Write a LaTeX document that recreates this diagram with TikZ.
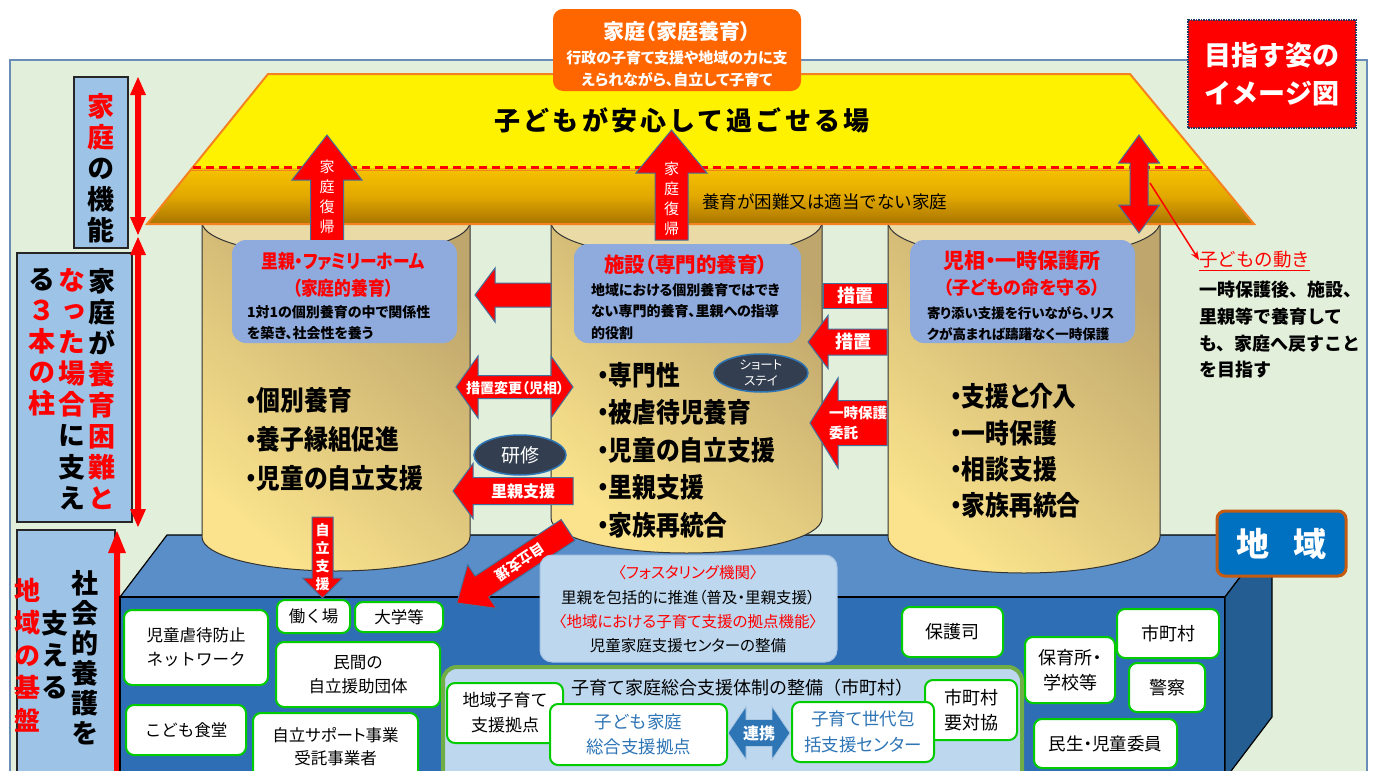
\documentclass[tikz,border=0pt]{standalone}
\usepackage{fontspec}
\usepackage{graphicx}
\setmainfont{Noto Sans CJK JP}
\newfontfamily\jpp{Noto Sans CJK JP}[RawFeature=+palt]
\newfontfamily\jpc{Noto Sans CJK JP}[RawFeature=+palt,FakeStretch=0.88]
\newfontfamily\jpls{Noto Sans CJK JP}[LetterSpace=12]
\newfontfamily\jpv{Noto Sans CJK JP}[RawFeature=+vert]
\usetikzlibrary{shapes.geometric,arrows.meta}
\newcommand\fsz[2]{\fontsize{#1}{#2}\selectfont}
\newcommand\R[1]{\textcolor{red}{#1}}
\definecolor{panelg}{HTML}{E2EFDA}
\definecolor{panelb}{HTML}{6A8DB8}
\definecolor{orgbox}{HTML}{FF6600}
\definecolor{roofor}{HTML}{F58220}
\definecolor{bandtop}{HTML}{F6C300}
\definecolor{bandmid}{HTML}{E2A800}
\definecolor{bandbot}{HTML}{A87400}
\definecolor{lblue}{HTML}{9DC3E6}
\definecolor{capblue}{HTML}{8FAADC}
\definecolor{arredge}{HTML}{41719C}
\definecolor{darkellc}{HTML}{333F50}
\definecolor{elledge}{HTML}{2E75B6}
\definecolor{topface}{HTML}{5A8EC8}
\definecolor{frontface}{HTML}{2E6EB5}
\definecolor{sideface}{HTML}{245D92}
\definecolor{boxgreen}{HTML}{00CC00}
\definecolor{fostfill}{HTML}{BDD7EE}
\definecolor{fostedge}{HTML}{A9C4E4}
\definecolor{contgreen}{HTML}{70AD47}
\definecolor{txtblue}{HTML}{2E75B6}
\definecolor{chiiki}{HTML}{0070C0}
\definecolor{chiikiedge}{HTML}{C55A11}
\definecolor{cyllight}{HTML}{FAE38C}
\definecolor{cyldark}{HTML}{BFA66C}
\definecolor{cyltopc}{HTML}{EADAA6}
\definecolor{reddot}{HTML}{203864}
% block arrow: style, tail, angle, length, shaft half, head half, head length
\newcommand\blkarrow[7]{%
 \begin{scope}[shift={#2},rotate=#3]
 \path[#1] (0,{-(#5)}) -- ({#4-(#7)},{-(#5)}) -- ({#4-(#7)},{-(#6)}) -- (#4,0) -- ({#4-(#7)},{#6}) -- ({#4-(#7)},{#5}) -- (0,{#5}) -- cycle;
 \end{scope}}
% double block arrow: style, centre, angle, length, shaft half, head half, head length
\newcommand\dblarrow[7]{%
 \begin{scope}[shift={#2},rotate=#3]
 \path[#1] ({-(#4)/2},0) -- ({-(#4)/2+(#7)},{-(#6)}) -- ({-(#4)/2+(#7)},{-(#5)}) -- ({(#4)/2-(#7)},{-(#5)}) -- ({(#4)/2-(#7)},{-(#6)}) -- ({(#4)/2},0) -- ({(#4)/2-(#7)},{#6}) -- ({(#4)/2-(#7)},{#5}) -- ({-(#4)/2+(#7)},{#5}) -- ({-(#4)/2+(#7)},{#6}) -- cycle;
 \end{scope}}
% cylinder: x1, x2, cx, rx, ytop, ybot, ry
\newcommand\cyl[7]{%
 \path[cylbody] (#1,#5) -- (#1,#6) .. controls (#1,{#6+0.5523*#7}) and ({#3-0.5523*#4},{#6+#7}) .. (#3,{#6+#7}) .. controls ({#3+0.5523*#4},{#6+#7}) and (#2,{#6+0.5523*#7}) .. (#2,#6) -- (#2,#5) -- cycle;
 \path[cyltop] (#3,#5) ellipse [x radius=#4pt, y radius=#7pt];}
\tikzset{
 panel/.style={fill=panelg, draw=panelb, line width=1.5pt},
 sidebox/.style={fill=lblue, draw=black!85, line width=1.5pt},
 thinred/.style={fill=red},
 redarr/.style={fill=red, draw=arredge, line width=1pt},
 cylbody/.style={top color=cyldark, bottom color=cyllight, shading angle=-40, draw=black!80, line width=1pt},
 cyltop/.style={fill=cyltopc, draw=black!80, line width=1pt},
 capbox/.style={fill=capblue, rounded corners=14pt},
 wbox/.style={fill=white, draw=boxgreen, line width=2pt, rounded corners=8pt, align=center, font=\fsz{16.5}{24}},
 darkell/.style={ellipse, fill=darkellc, draw=elledge, line width=1.5pt, text=white},
 face/.style={draw=black, line width=1.2pt},
 wtxt/.style={text=white},
}
\begin{document}
\begin{tikzpicture}[x=1pt,y=-1pt,every node/.style={inner sep=0pt,outer sep=0pt}]
\useasboundingbox (0,0) rectangle (1377,771);
\clip (0,0) rectangle (1377,771);
\fill[white] (0,0) rectangle (1377,771);
\path[panel] (10,60) rectangle (1367,790);

% left side boxes
\node[sidebox, minimum width=54, minimum height=171] (kinobox) at (101,162.5) {};
\node[font=\jpv\bfseries\fsz{27}{31}, align=center] (kinotxt) at (101,168.5) {\R{家}\\\R{庭}\\の\\機\\能};
\dblarrow{thinred}{(138,156)}{90}{158}{3}{8}{18}
\node[sidebox, minimum width=115, minimum height=269] (pillarbox) at (74.5,387.5) {};
\node[font=\jpv\bfseries\fsz{27}{31.1}, align=center] (pc1) at (102,389) {家\\庭\\が\\\R{養}\\\R{育}\\\R{困}\\\R{難}\\\R{と}};
\node[font=\jpv\bfseries\fsz{27}{31.1}, align=center] (pc2) at (72,389) {\R{な}\\\R{っ}\\\R{た}\\\R{場}\\\R{合}\\に\\支\\え};
\node[font=\jpv\bfseries\fsz{27}{31.1}, align=center] (pc3) at (42,342) {る\\\R{３}\\\R{本}\\\R{の}\\\R{柱}};
\dblarrow{thinred}{(138,382)}{90}{290}{3}{8}{18}
\node[sidebox, minimum width=98, minimum height=270] (basebox) at (66,665) {};
\node[font=\jpv\bfseries\fsz{27}{30}, align=center] (bc1) at (85,658) {社\\会\\的\\養\\護\\を};
\node[font=\jpv\bfseries\fsz{27}{32}, align=center] (bc2) at (55,655) {支\\え\\る};
\node[font=\jpv\bfseries\fsz{26}{32.5}, align=center, text=red] (bc3) at (27,655) {地\\域\\の\\基\\盤};
\dblarrow{thinred}{(117,676)}{90}{290}{3}{9}{22}

% community block
\path[face, fill=topface] (120,597) -- (167,535) -- (1272,535) -- (1225,597) -- cycle;
\path[face, fill=frontface] (120,597) rectangle (1225,800);
\path[face, fill=sideface] (1225,597) -- (1272,535) -- (1272,717) -- (1225,779) -- cycle;

% cylinders
\cyl{202}{470}{336}{134}{222}{537}{34}
\cyl{551}{822}{686.5}{135.5}{222}{518}{35}
\cyl{888}{1160}{1024}{136}{222}{537}{36}

% roof
\path[fill=yellow] (268,74) -- (1130,74) -- (1208,168) -- (192,168) -- cycle;
\path[top color=bandtop, bottom color=bandbot, middle color=bandmid] (192,168) -- (1208,168) -- (1254,224) -- (147,224) -- cycle;
\draw[roofor, line width=2pt] (268,74) -- (1130,74) -- (1254,224) -- (147,224) -- cycle;
\draw[roofor, line width=1.5pt] (190,170.5) -- (1210,170.5);
\draw[red, line width=3pt, dash pattern=on 8pt off 5pt] (193,167) -- (1207,167);
\node[font=\jpls\bfseries\fsz{26}{30}] (safeplace) at (682,120) {子どもが安心して過ごせる場};
\node[font=\fsz{17.5}{20}, anchor=west] (hardhome) at (702,202) {養育が困難又は適当でない家庭};

% return-home arrows
\blkarrow{redarr}{(327,242)}{90}{107}{16.5}{35}{45}
\node[wtxt, font=\jpv\fsz{15}{20}, align=center] (ret1) at (327,197) {家\\庭\\復\\帰};
\blkarrow{redarr}{(671.5,240)}{90}{110}{16.5}{35.5}{43}
\node[wtxt, font=\jpv\fsz{15}{20}, align=center] (ret2) at (671.5,199) {家\\庭\\復\\帰};
\dblarrow{redarr}{(1139,184)}{90}{98}{9}{20.5}{28}

% home box and goal box
\node[fill=orgbox, rounded corners=10pt, minimum width=248, minimum height=82] (homebox) at (677,50) {};
\node[wtxt, font=\jpp\bfseries\fsz{21}{24}] (hometitle) at (677,32) {家庭（家庭養育）};
\node[wtxt, font=\jpp\bfseries\fsz{15}{22}, align=center] (homesub) at (677,69) {行政の子育て支援や地域の力に支\\えられながら、自立して子育て};
\node[fill=red, draw=reddot, densely dotted, line width=1.5pt, minimum width=168, minimum height=108] (goalbox) at (1272,74) {};
\node[wtxt, font=\bfseries\fsz{27}{38}, align=center] (goaltxt) at (1272,74) {目指す姿の\\イメージ図};

% caption boxes on the pillars
\node[capbox, minimum width=225, minimum height=103] (capL) at (344.5,291.5) {};
\node[capbox, minimum width=227, minimum height=99] (capM) at (687.5,293.5) {};
\node[capbox, minimum width=225, minimum height=103] (capR) at (1022.5,291.5) {};
\node[text=red, font=\jpc\bfseries\fsz{19}{22}] (capLt1) at (343,261) {里親・ファミリーホーム};
\node[text=red, font=\jpc\bfseries\fsz{19}{22}] (capLt2) at (343,288) {（家庭的養育）};
\node[font=\jpp\bfseries\fsz{14}{21}, anchor=west, align=left] (capLd) at (247,322.5) {1対1の個別養育の中で関係性\\を築き、社会性を養う};
\node[text=red, font=\jpp\bfseries\fsz{20.5}{24}] (capMt) at (686,265) {施設（専門的養育）};
\node[font=\jpp\bfseries\fsz{14}{21.5}, anchor=west, align=left] (capMd) at (591,311.5) {地域における個別養育ではでき\\ない専門的養育、里親への指導\\的役割};
\node[text=red, font=\jpp\bfseries\fsz{21}{24}] (capRt1) at (1022,261) {児相・一時保護所};
\node[text=red, font=\jpp\bfseries\fsz{18}{22}] (capRt2) at (1022,288) {（子どもの命を守る）};
\node[font=\jpp\bfseries\fsz{13.5}{21}, anchor=west, align=left] (capRd) at (927,323.5) {寄り添い支援を行いながら、リス\\クが高まれば躊躇なく一時保護};

% bullet lists
\node[font=\jpc\bfseries\fsz{27}{39}, anchor=west, align=left] (bulL) at (245,439) {・個別養育\\・養子縁組促進\\・児童の自立支援};
\node[font=\jpc\bfseries\fsz{27}{37.5}, anchor=west, align=left] (bulM) at (597,450) {・専門性\\・被虐待児養育\\・児童の自立支援\\・里親支援\\・家族再統合};
\node[font=\jpc\bfseries\fsz{27}{36.3}, anchor=west, align=left] (bulR) at (950,451) {・支援と介入\\・一時保護\\・相談支援\\・家族再統合};

% arrows between pillars
\blkarrow{redarr}{(551,295)}{180}{76}{12}{27}{20}
\dblarrow{redarr}{(514.5,387)}{0}{117}{11.5}{31}{22}
\node[wtxt, font=\jpp\bfseries\fsz{14}{16}] (chg) at (515,388) {措置変更（児相）};
\node[darkell, minimum width=92, minimum height=40, font=\fsz{19}{22}] (kenshu) at (520,455) {研修};
\blkarrow{redarr}{(573,491)}{180}{120}{13.5}{27.5}{20}
\node[wtxt, font=\bfseries\fsz{16}{18}] (satoshien) at (523,491) {里親支援};
\node[redarr, minimum width=64, minimum height=25, wtxt, font=\bfseries\fsz{18}{20}] (sochi1) at (855,295.5) {措置};
\blkarrow{redarr}{(887,342)}{180}{79}{13}{26.5}{20}
\node[wtxt, font=\bfseries\fsz{18}{20}] (sochi2) at (853,342) {措置};
\blkarrow{redarr}{(887,423)}{180}{77}{22.5}{45}{28}
\node[wtxt, font=\bfseries\fsz{14.5}{20}, anchor=west, align=left] (itaku) at (829,423) {一時保護\\委託};
\node[darkell, minimum width=94, minimum height=38, font=\jpp\fsz{12.5}{16}, align=center] (short) at (761,373) {ショート\\ステイ};
\blkarrow{redarr}{(322.5,517)}{-90}{81}{10.5}{20}{20}
\node[wtxt, font=\jpv\bfseries\fsz{14}{18}, align=center] (jiritsuA) at (322.5,557) {自\\立\\支\\援};
\blkarrow{redarr}{(568,530)}{213.3}{133}{12.5}{26}{30}
\node[wtxt, font=\bfseries\fsz{14}{16}, rotate=213.3] (jiritsuB) at (520,562) {自立支援};

% child movement note
\node[text=red, font=\fsz{18.5}{20}, anchor=west] (kdm) at (1199,260) {子どもの動き};
\draw[red, line width=1.2pt] ([yshift=-2pt]kdm.south west) -- ([yshift=-2pt]kdm.south east);
\coordinate (mvs) at (1150,183);
\draw[red, line width=1.5pt, -{Stealth[length=9pt,width=7pt]}] (mvs) -- (kdm.west);
\node[font=\bfseries\fsz{18}{26.7}, anchor=west, align=left] (kdmtxt) at (1199,330) {一時保護後、施設、\\里親等で養育して\\も、家庭へ戻すこと\\を目指す};

% fostering agency
\node[fill=fostfill, draw=fostedge, line width=1pt, rounded corners=12pt, minimum width=297, minimum height=107] (fost) at (688.5,608.5) {};
\node[font=\jpp\fsz{15.5}{24.3}, align=center] (fosttxt) at (688,609.5) {\R{〈フォスタリング機関〉}\\里親を包括的に推進（普及・里親支援）\\\R{〈地域における子育て支援の拠点機能〉}\\児童家庭支援センターの整備};

% community resources
\node[wbox, minimum width=144, minimum height=75] (bnet) at (196,647.5) {児童虐待防止\\ネットワーク};
\node[wbox, minimum width=73, minimum height=33] (bwork) at (313.5,616.5) {働く場};
\node[wbox, minimum width=88, minimum height=30] (buniv) at (399,617) {大学等};
\node[wbox, minimum width=164, minimum height=65] (bmin) at (358,674.5) {民間の\\自立援助団体};
\node[wbox, minimum width=120, minimum height=50] (bfood) at (186,730) {こども食堂};
\node[wbox, minimum width=165, minimum height=67, font=\jpp\fsz{16.5}{23}] (bsup) at (335.5,746.5) {自立サポート事業\\受託事業者};
\node[wbox, minimum width=101, minimum height=50, font=\fsz{18}{24}] (bhogo) at (952.5,632) {保護司};
\node[wbox, minimum width=90, minimum height=66, font=\jpp\fsz{18}{25}] (bhoiku) at (1070,670) {保育所・\\学校等};
\node[wbox, minimum width=102, minimum height=49, font=\fsz{18}{24}] (bcity) at (1168,633.5) {市町村};
\node[wbox, minimum width=76, minimum height=49, font=\fsz{18}{24}] (bpolice) at (1167,687.5) {警察};
\node[wbox, minimum width=143, minimum height=49, font=\jpp\fsz{17.5}{24}] (bminsei) at (1105.5,743.5) {民生・児童委員};

% municipal support system
\node[fill=fostfill, draw=contgreen, line width=4pt, rounded corners=14pt, minimum width=579, minimum height=140] (cont) at (732.5,737) {};
\node[font=\fsz{18}{20}] (conttitle) at (742,688) {子育て家庭総合支援体制の整備（市町村）};
\node[wbox, minimum width=116, minimum height=60, font=\fsz{17}{25}] (bloc) at (505,713) {地域子育て\\支援拠点};
\node[wbox, minimum width=92, minimum height=60, font=\fsz{18}{25}] (bshi) at (971,710) {市町村\\要対協};
\node[wbox, minimum width=177, minimum height=61, text=txtblue, font=\fsz{17.5}{25}] (bkdc) at (638.5,734.5) {子ども家庭\\総合支援拠点};
\node[wbox, minimum width=142, minimum height=60, text=txtblue, font=\jpp\fsz{17.5}{26}] (bksc) at (863,732) {子育て世代包\\括支援センター};
\dblarrow{fill=txtblue, draw=white!60!txtblue, line width=0.8pt}{(759,733)}{0}{62}{13.5}{26.5}{18}
\node[wtxt, font=\bfseries\fsz{16}{18}] (renkei) at (759,733) {連携};

% community label
\node[fill=chiiki, draw=chiikiedge, line width=3pt, rounded corners=8pt, minimum width=129, minimum height=65, wtxt, font=\bfseries\fsz{33}{36}] (chiikilbl) at (1281.5,543.5) {地\hspace{24pt}域};
\end{tikzpicture}
\end{document}
